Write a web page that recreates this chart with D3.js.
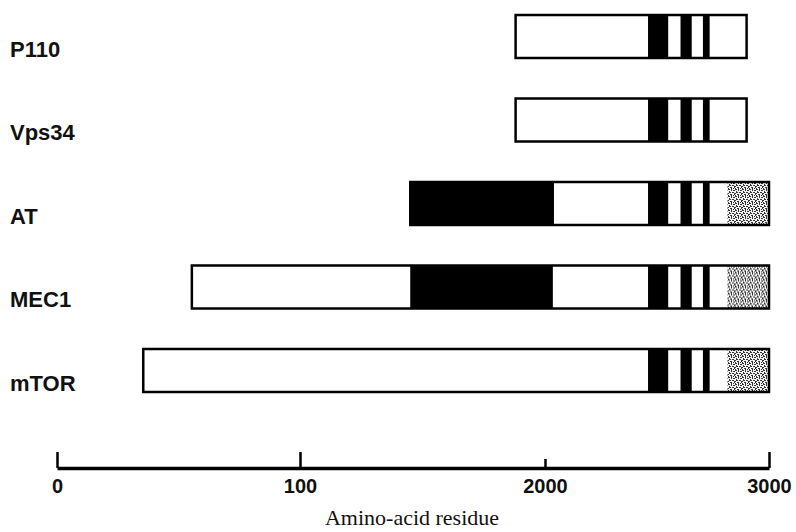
<!DOCTYPE html>
<html>
<head>
<meta charset="utf-8">
<script src="https://cdn.jsdelivr.net/npm/d3@7"></script>
<style>
  body { margin: 0; background: #fff; }
</style>
</head>
<body>
<div id="domain_graph"></div>
<script>
// proteins, top to bottom
var proteins = ["P110", "Vps34", "AT", "MEC1", "mTOR"];
// full length of each protein, [start, end] in residues
var spans = [[1880, 2900], [1880, 2900], [1450, 3000], [555, 3000], [355, 3000]];
// big black block (only AT and MEC1)
var bigBlocks = [null, null, [1450, 2040], [1450, 2035], null];
// three black stripes shared by all
var stripes = [[2460, 2550], [2605, 2655], [2705, 2735]];
// stippled end region (null where absent)
var stippled = [null, null, [2815, 3000], [2815, 3000], [2815, 3000]];
// axis ticks and their printed labels
var tickValues = [0, 1000, 2000, 3000];
var tickLabels = ["0", "100", "2000", "3000"];
var axisTitle = "Amino-acid residue";

domains();

function domains() {
  var width = 796;
  var height = 532;

  var svg = d3.select("#domain_graph")
    .append("svg")
    .attr("width", width)
    .attr("height", height);

  var defs = svg.append("defs");
  var pat = defs.append("pattern")
    .attr("id", "stipple")
    .attr("patternUnits", "userSpaceOnUse")
    .attr("width", 7)
    .attr("height", 7);
  pat.append("rect").attr("width", 7).attr("height", 7).attr("fill", "#f4f4f4");
  [[0,0,2,1],[3,0,1,2],[5,1,2,1],[1,2,1,2],[4,3,2,1],[0,4,1,1],[2,5,2,1],
   [6,4,1,2],[3,6,1,1],[5,6,1,1],[2,3,1,1],[0,6,1,1]].forEach(function(r) {
    pat.append("rect")
      .attr("x", r[0]).attr("y", r[1])
      .attr("width", r[2]).attr("height", r[3])
      .attr("fill", "#333");
  });

  // the printed axis is not evenly spaced, so follow it piecewise
  var x = d3.scaleLinear()
    .domain(tickValues)
    .range([57, 300, 545, 769]);

  var y = d3.scaleBand()
    .domain(proteins)
    .range([15, 392])
    .paddingInner(0.485)
    .paddingOuter(0);

  var rows = svg.selectAll("g.row")
    .data(proteins)
    .enter()
    .append("g")
    .attr("class", "row")
    .attr("transform", function(d) { return "translate(0," + y(d) + ")"; });

  // outline body
  rows.append("rect")
    .attr("fill", "#fff")
    .attr("x", function(d, i) { return x(spans[i][0]); })
    .attr("width", function(d, i) { return x(spans[i][1]) - x(spans[i][0]); })
    .attr("height", y.bandwidth());

  rows.each(function(d, i) {
    var g = d3.select(this);
    if (bigBlocks[i]) {
      g.append("rect")
        .attr("fill", "#000")
        .attr("x", x(bigBlocks[i][0]))
        .attr("width", x(bigBlocks[i][1]) - x(bigBlocks[i][0]))
        .attr("height", y.bandwidth());
    }
    stripes.forEach(function(s) {
      g.append("rect")
        .attr("fill", "#000")
        .attr("x", x(s[0]))
        .attr("width", x(s[1]) - x(s[0]))
        .attr("height", y.bandwidth());
    });
    if (stippled[i]) {
      g.append("rect")
        .attr("fill", "url(#stipple)")
        .attr("x", x(stippled[i][0]))
        .attr("width", x(stippled[i][1]) - x(stippled[i][0]))
        .attr("height", y.bandwidth());
    }
  });

  // border on top
  rows.append("rect")
    .attr("fill", "none")
    .attr("stroke", "#000")
    .attr("stroke-width", 2.5)
    .attr("x", function(d, i) { return x(spans[i][0]); })
    .attr("width", function(d, i) { return x(spans[i][1]) - x(spans[i][0]); })
    .attr("height", y.bandwidth());

  rows.append("text")
    .attr("x", 10)
    .attr("y", y.bandwidth() - 1)
    .attr("font-family", "Liberation Sans, Arial, sans-serif")
    .attr("font-weight", "bold")
    .attr("font-size", 22)
    .attr("fill", "#111")
    .text(function(d) { return d; });

  // axis
  var axisY = 468;
  var axis = d3.axisBottom(x)
    .tickValues(tickValues)
    .tickSizeInner(0)
    .tickSizeOuter(0)
    .tickPadding(11)
    .tickFormat(function(d, i) { return tickLabels[i]; });

  var ax = svg.append("g")
    .attr("transform", "translate(0," + axisY + ")")
    .call(axis);

  ax.select(".domain")
    .attr("stroke", "#000")
    .attr("stroke-width", 3.5);

  ax.selectAll(".tick line")
    .attr("y2", function(d) { return d === 2000 ? -9 : -16; })
    .attr("stroke", "#000")
    .attr("stroke-width", 2.5);

  ax.selectAll(".tick text")
    .attr("font-family", "Liberation Sans, Arial, sans-serif")
    .attr("font-weight", "bold")
    .attr("font-size", 20)
    .attr("fill", "#111");

  svg.append("text")
    .attr("transform", "translate(412," + 525 + ")")
    .attr("font-family", "Liberation Serif, Times New Roman, serif")
    .attr("font-size", 22)
    .attr("fill", "#111")
    .style("text-anchor", "middle")
    .text(axisTitle);
}
</script>
</body>
</html>
